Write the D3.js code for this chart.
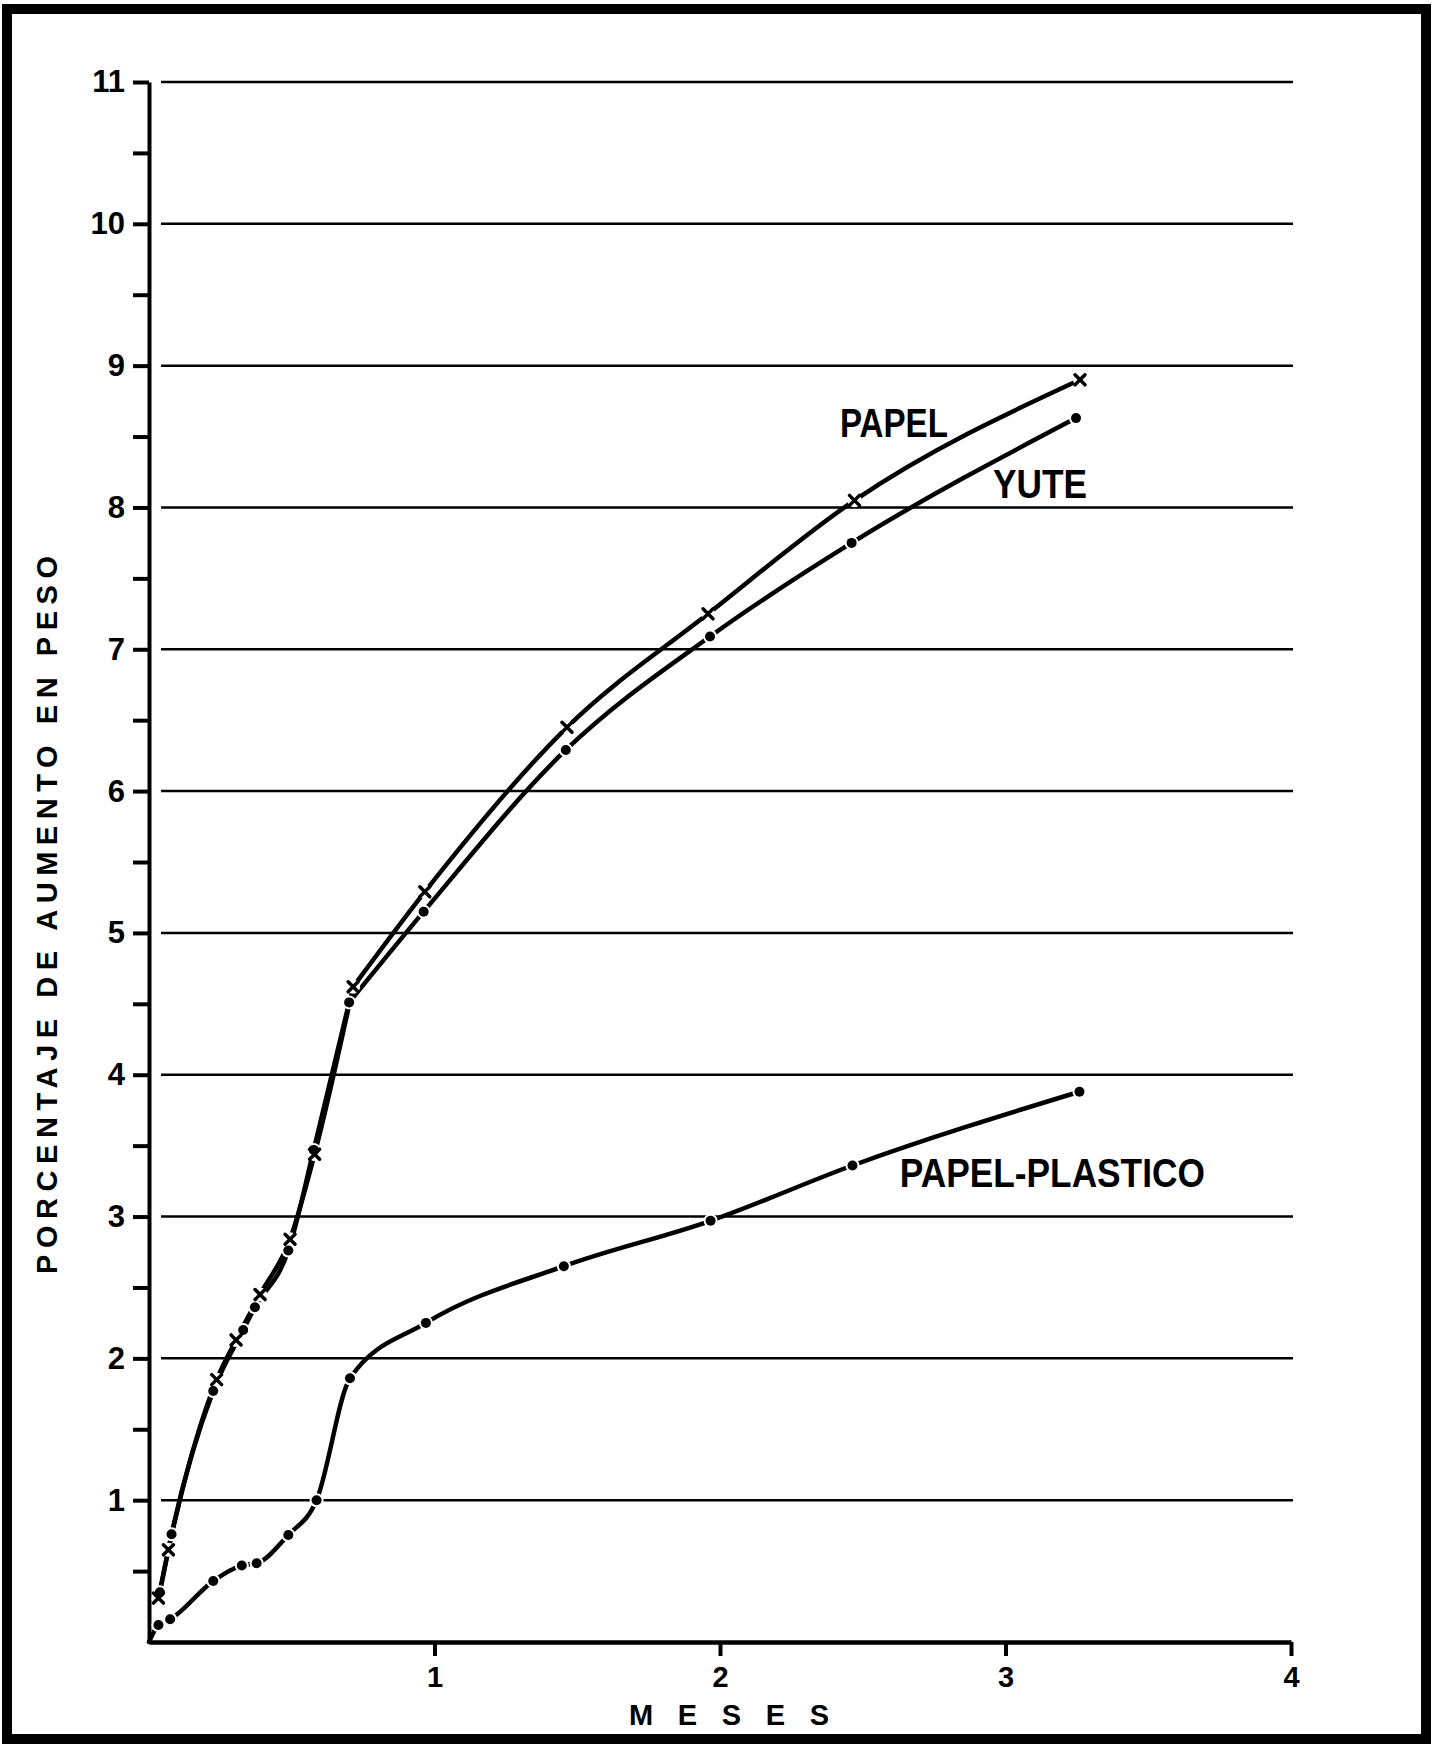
<!DOCTYPE html>
<html>
<head>
<meta charset="utf-8">
<script src="https://cdn.jsdelivr.net/npm/d3@7/dist/d3.min.js"></script>
<style>
  body { margin: 0; background: #fff; }
  svg { display: block; }
  text { font-family: "Liberation Sans", Arial, sans-serif; font-weight: bold; fill: #000; }
  .serie-label { font-family: "Liberation Sans Narrow", "Liberation Sans", sans-serif; font-size: 40px; }
</style>
</head>
<body>
<div id="chart"></div>
<script>
// Datos (meses, % de aumento en peso)
const papelMeses = [0.033, 0.068, 0.237, 0.305, 0.389, 0.494, 0.580, 0.715, 0.966, 1.464, 1.958, 2.471, 3.261];
const papelPeso  = [0.31, 0.65, 1.85, 2.13, 2.45, 2.84, 3.44, 4.62, 5.29, 6.45, 7.25, 8.05, 8.90];

const yuteMeses = [0.038, 0.079, 0.225, 0.330, 0.371, 0.488, 0.577, 0.701, 0.962, 1.460, 1.965, 2.461, 3.247];
const yutePeso  = [0.35, 0.76, 1.77, 2.20, 2.36, 2.76, 3.47, 4.51, 5.15, 6.29, 7.09, 7.75, 8.63];

// la curva papel-plastico arranca en el origen
const plasticoMeses = [0, 0.033, 0.074, 0.225, 0.325, 0.377, 0.488, 0.587, 0.704, 0.970, 1.453, 1.967, 2.464, 3.259];
const plasticoPeso  = [0, 0.12, 0.16, 0.43, 0.54, 0.555, 0.755, 1.00, 1.86, 2.25, 2.65, 2.97, 3.36, 3.88];

const yTicks = [1, 2, 3, 4, 5, 6, 7, 8, 9, 10, 11];
const xTicks = [1, 2, 3, 4];

const width = 1437, height = 1744;
const margin = {top: 82, right: 146, bottom: 102, left: 149};

const svg = d3.select("#chart").append("svg")
    .attr("width", width)
    .attr("height", height);

// Marco grueso
svg.append("rect")
    .attr("x", 7).attr("y", 9)
    .attr("width", 1419).attr("height", 1730)
    .attr("fill", "none")
    .attr("stroke", "#000")
    .attr("stroke-width", 10);

const x = d3.scaleLinear().domain([0, 4]).range([margin.left, width - margin.right]);
const y = d3.scaleLinear().domain([0, 11]).range([height - margin.bottom, margin.top]);

// Lineas horizontales
svg.append("g")
    .selectAll("line")
    .data(yTicks)
    .join("line")
        .attr("x1", x(0) + 12)
        .attr("x2", x(4) + 2)
        .attr("y1", d => y(d))
        .attr("y2", d => y(d))
        .attr("stroke", "#000")
        .attr("stroke-width", 2.5);

// Eje Y con marcas cada 0.5
const halfTicks = d3.range(1, 23).map(i => i / 2);
const yAxis = d3.axisLeft(y)
    .tickValues(halfTicks)
    .tickSize(16)
    .tickSizeOuter(0)
    .tickPadding(8)
    .tickFormat(d => yTicks.includes(d) ? d : "");

const yAxisGroup = svg.append("g")
    .attr("transform", "translate(" + x(0) + ",0)")
    .call(yAxis);
yAxisGroup.select(".domain").attr("stroke-width", 4);
yAxisGroup.selectAll(".tick line").attr("stroke-width", 4);
yAxisGroup.selectAll("text")
    .style("font-size", "31px")
    .style("font-family", "'Liberation Sans', Arial, sans-serif")
    .style("font-weight", "bold");

// Eje X
const xAxis = d3.axisBottom(x)
    .tickValues(xTicks)
    .tickFormat(d3.format("d"))
    .tickSize(14)
    .tickSizeOuter(0)
    .tickPadding(10);

const xAxisGroup = svg.append("g")
    .attr("transform", "translate(0," + y(0) + ")")
    .call(xAxis);
xAxisGroup.select(".domain").attr("stroke-width", 4.5);
xAxisGroup.selectAll(".tick line").attr("stroke-width", 4);
xAxisGroup.selectAll("text")
    .style("font-size", "29px")
    .style("font-family", "'Liberation Sans', Arial, sans-serif")
    .style("font-weight", "bold");

// Titulos de ejes
svg.append("text")
    .attr("x", 729)
    .attr("y", 1725)
    .attr("text-anchor", "middle")
    .attr("textLength", 200)
    .attr("lengthAdjust", "spacing")
    .style("font-size", "29px")
    .text("MESES");

svg.append("text")
    .attr("transform", "translate(57,915) rotate(-90)")
    .attr("text-anchor", "middle")
    .attr("textLength", 718)
    .attr("lengthAdjust", "spacing")
    .style("font-size", "29px")
    .text("PORCENTAJE DE AUMENTO EN PESO");

// Series (corner = punto donde el trazo cambia bruscamente de direccion)
const series = [
    {name: "PAPEL", meses: papelMeses, peso: papelPeso, marker: "x", corner: 7, skipFirst: false},
    {name: "YUTE", meses: yuteMeses, peso: yutePeso, marker: "dot", corner: 7, skipFirst: false},
    {name: "PAPEL-PLASTICO", meses: plasticoMeses, peso: plasticoPeso, marker: "dot", corner: null, skipFirst: true}
];

const line = d3.line()
    .x(d => x(d[0]))
    .y(d => y(d[1]))
    .curve(d3.curveMonotoneX);

series.forEach(s => {
    s.points = s.meses.map((m, i) => [m, s.peso[i]]);
    s.markers = s.skipFirst ? s.points.slice(1) : s.points;
    const pieces = s.corner === null
        ? [s.points]
        : [s.points.slice(0, s.corner + 1), s.points.slice(s.corner)];
    pieces.forEach(p => {
        svg.append("path")
            .datum(p)
            .attr("d", line)
            .attr("fill", "none")
            .attr("stroke", "#000")
            .attr("stroke-width", 4.5)
            .attr("stroke-linecap", "round")
            .attr("stroke-linejoin", "round");
    });
});

// Huecos blancos alrededor de los puntos (como en el dibujo a mano)
series.forEach(s => {
    svg.append("g")
        .selectAll("circle")
        .data(s.markers)
        .join("circle")
            .attr("cx", d => x(d[0]))
            .attr("cy", d => y(d[1]))
            .attr("r", 7)
            .attr("fill", "#fff");
});

series.forEach(s => {
    const g = svg.append("g");
    if (s.marker === "dot") {
        g.selectAll("circle")
            .data(s.markers)
            .join("circle")
                .attr("cx", d => x(d[0]))
                .attr("cy", d => y(d[1]))
                .attr("r", 5)
                .attr("fill", "#000");
    } else {
        g.selectAll("path")
            .data(s.markers)
            .join("path")
                .attr("transform", d => "translate(" + x(d[0]) + "," + y(d[1]) + ")")
                .attr("d", "M-5,-5L5,5M5,-5L-5,5")
                .attr("stroke", "#000")
                .attr("stroke-width", 3.5)
                .attr("stroke-linecap", "round");
    }
});

// Etiquetas de las curvas (posicion en unidades del grafico)
const labelPos = {
    "PAPEL": {m: 2.42, p: 8.50, len: 108},
    "YUTE": {m: 2.956, p: 8.07, len: 94},
    "PAPEL-PLASTICO": {m: 2.63, p: 3.21, len: 305}
};

series.forEach(s => {
    const lp = labelPos[s.name];
    svg.append("text")
        .attr("class", "serie-label")
        .attr("x", x(lp.m))
        .attr("y", y(lp.p))
        .attr("textLength", lp.len)
        .attr("lengthAdjust", "spacingAndGlyphs")
        .text(s.name);
});
</script>
</body>
</html>
